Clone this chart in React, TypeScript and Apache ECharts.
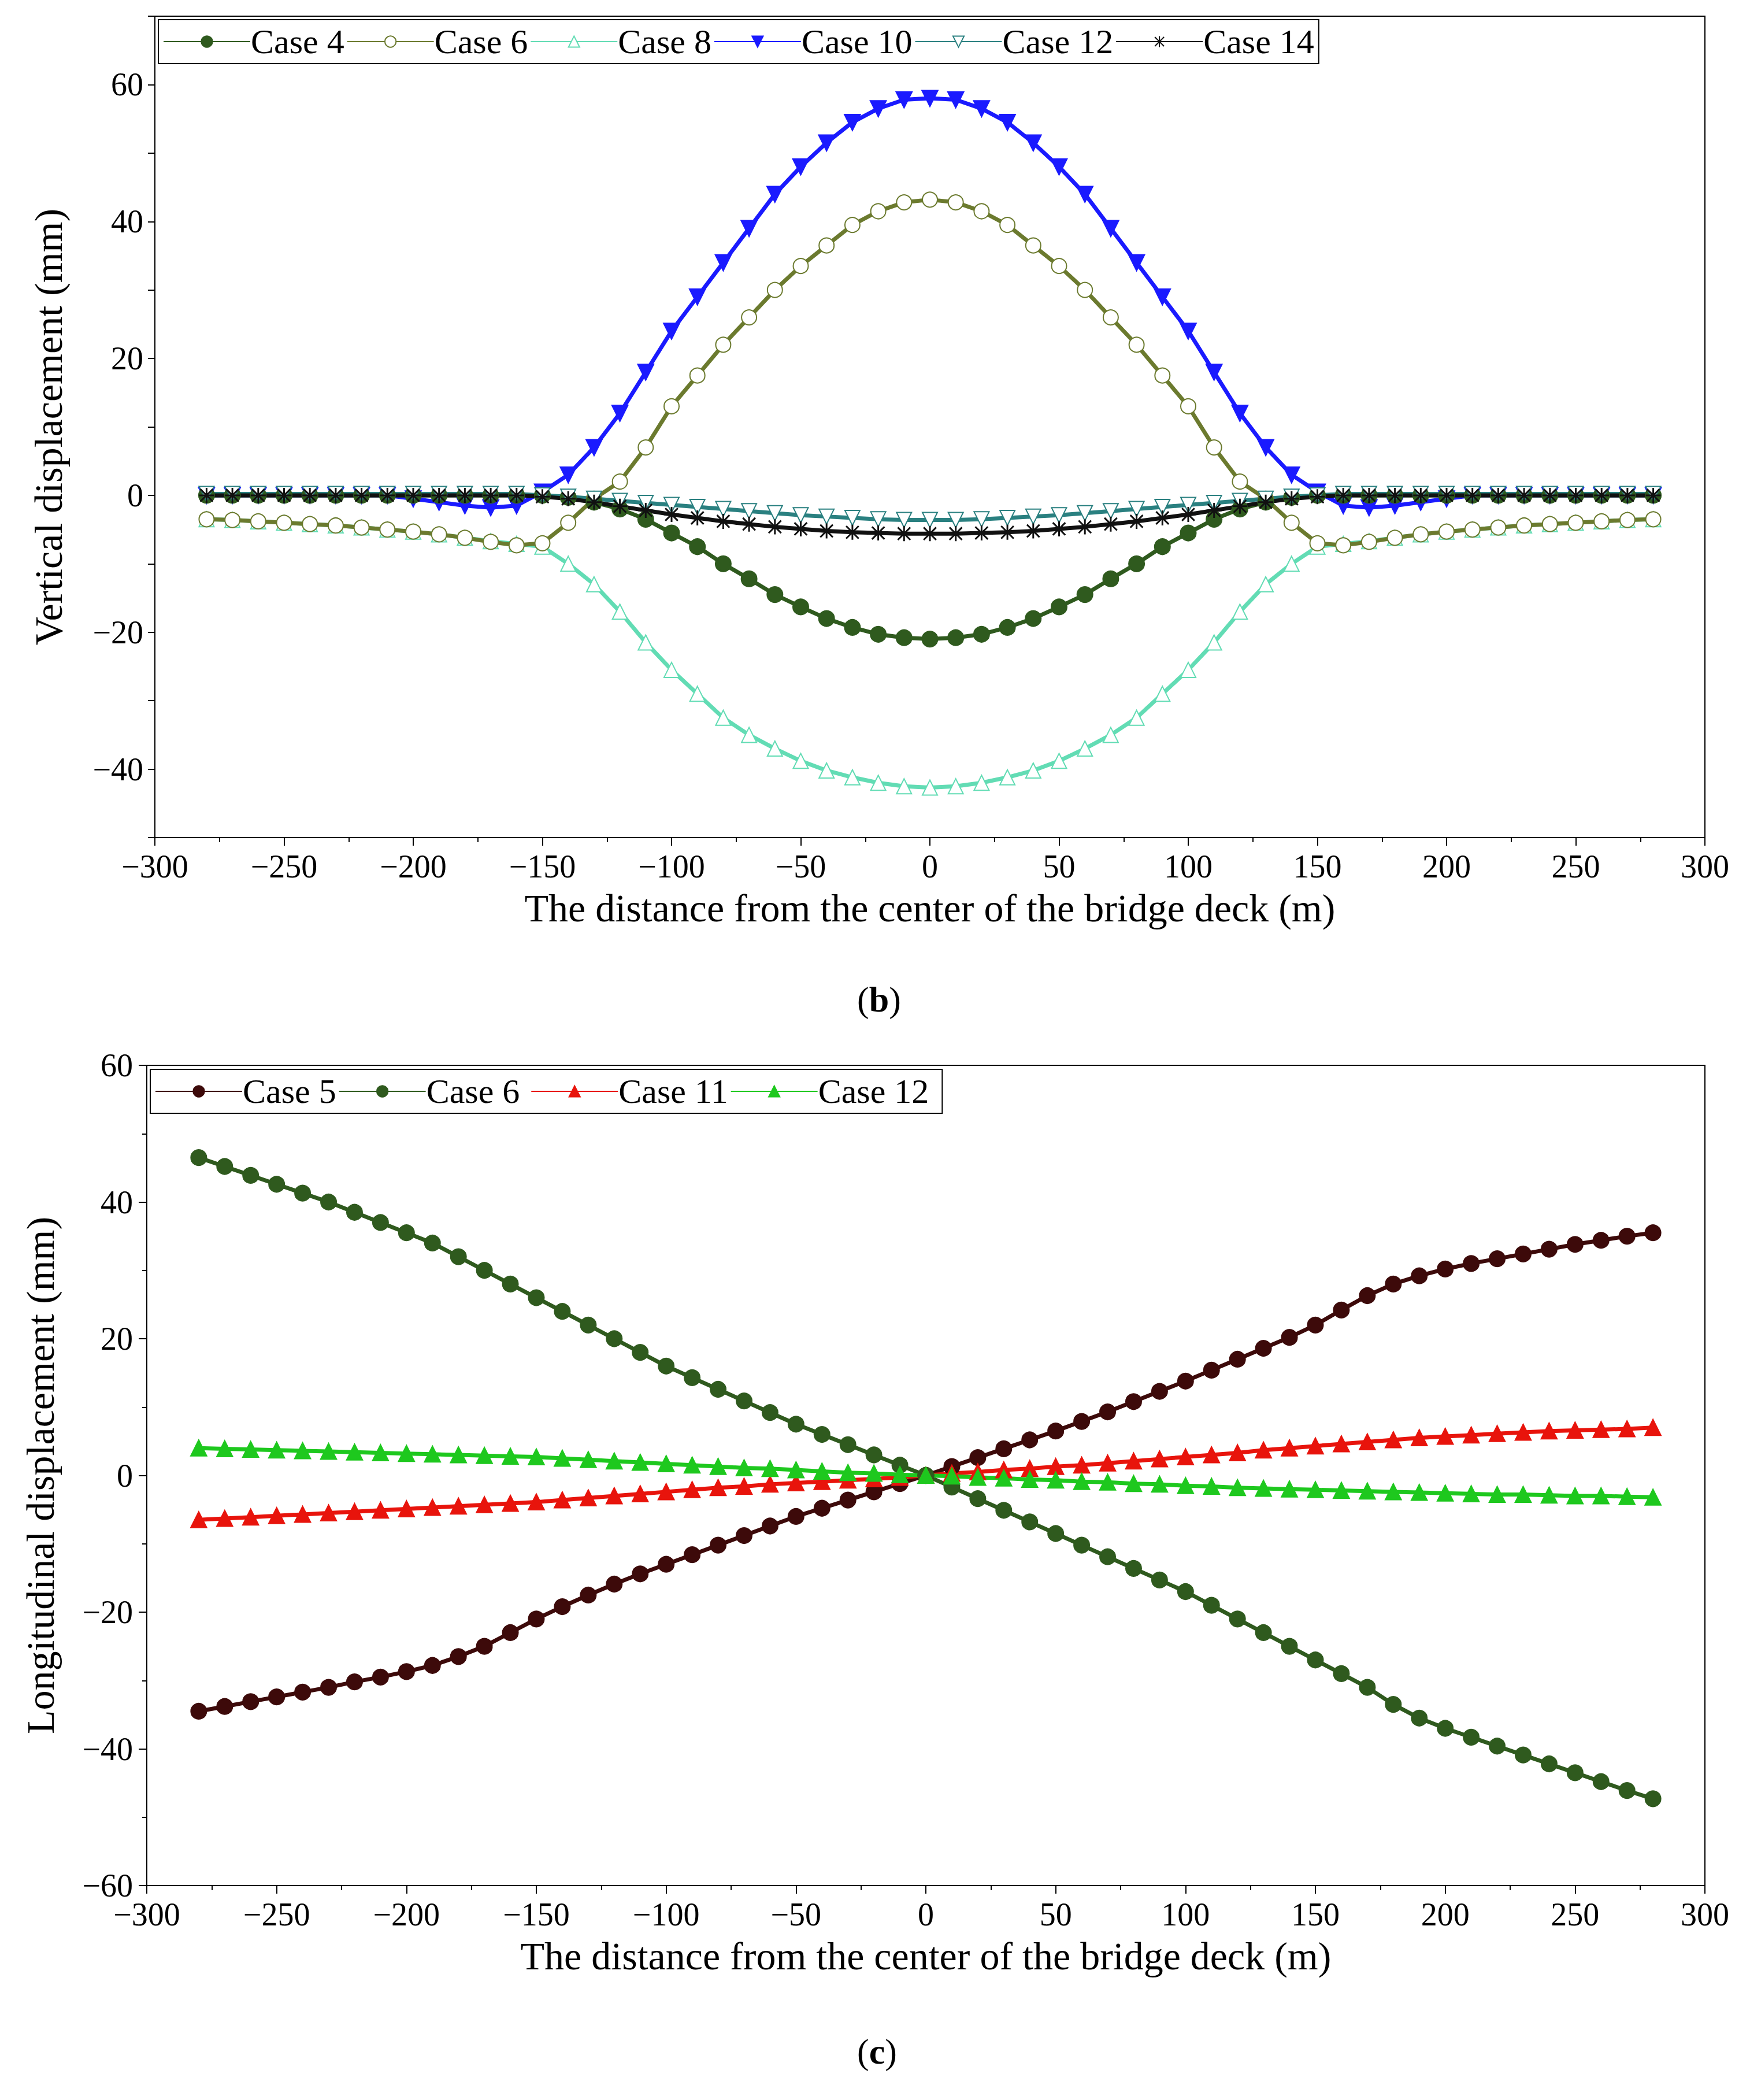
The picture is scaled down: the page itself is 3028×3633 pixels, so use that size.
import { useEffect, useRef } from "react";
import * as echarts from "echarts";

// x positions (m), every 10 m from -280 to 280
const xs = [
  -280, -270, -260, -250, -240, -230, -220, -210, -200, -190, -180, -170, -160, -150, -140, -130, -120, -110, -100, -90,
  -80, -70, -60, -50, -40, -30, -20, -10, 0, 10, 20, 30, 40, 50, 60, 70, 80, 90, 100, 110, 120, 130, 140, 150, 160, 170,
  180, 190, 200, 210, 220, 230, 240, 250, 260, 270, 280,
];

// (b) vertical displacement (mm)
const vCase4 = [
  0, 0, 0, 0, 0, 0, 0, 0, 0, 0, 0, 0, 0, 0, -0.3, -1, -2, -3.5, -5.5, -7.5, -10, -12.2, -14.5, -16.3, -18, -19.3, -20.3, -20.8,
  -21,
  -20.8, -20.3, -19.3, -18, -16.3, -14.5, -12.2, -10, -7.5, -5.5, -3.5, -2, -1, -0.3, 0, 0, 0, 0, 0, 0, 0, 0, 0, 0, 0, 0, 0, 0,
];
const vCase6 = [
  -3.5, -3.6, -3.8, -4, -4.2, -4.4, -4.7, -5, -5.3, -5.7, -6.2, -6.8, -7.3, -7, -4, -0.5, 2, 7, 13, 17.5, 22, 26, 30, 33.5, 36.5,
  39.5, 41.5, 42.8,
  43.2,
  42.8, 41.5, 39.5, 36.5, 33.5, 30, 26, 22, 17.5, 13, 7, 2, -0.5, -4, -7, -7.3, -6.8, -6.2, -5.7, -5.3, -5, -4.7, -4.4, -4.2, -4,
  -3.8, -3.6, -3.5,
];
const vCase8 = [
  -3.5, -3.6, -3.8, -4, -4.2, -4.4, -4.7, -5, -5.3, -5.7, -6.2, -6.7, -7.1, -7.5, -10, -13, -17, -21.5, -25.5, -29, -32.5, -35,
  -37, -38.8, -40.2, -41.2, -42, -42.5,
  -42.7,
  -42.5, -42, -41.2, -40.2, -38.8, -37, -35, -32.5, -29, -25.5, -21.5, -17, -13, -10, -7.5, -7.1, -6.7, -6.2, -5.7, -5.3, -5,
  -4.7, -4.4, -4.2, -4, -3.8, -3.6, -3.5,
];
const vCase10 = [
  0, 0, 0, 0, 0, 0, 0, 0, -0.5, -1, -1.5, -1.8, -1.5, 0.5, 3, 7, 12, 18, 24, 29, 34, 39, 44, 48, 51.5, 54.5, 56.5, 57.8,
  58,
  57.8, 56.5, 54.5, 51.5, 48, 44, 39, 34, 29, 24, 18, 12, 7, 3, 0.5, -1.5, -1.8, -1.5, -1, -0.5, 0, 0, 0, 0, 0, 0, 0, 0,
];
const vCase12 = [
  0.2, 0.2, 0.2, 0.2, 0.2, 0.2, 0.2, 0.2, 0.2, 0.2, 0.2, 0.2, 0.2, 0, -0.2, -0.5, -0.8, -1.1, -1.4, -1.7, -2, -2.3, -2.6, -2.9,
  -3.1, -3.3, -3.5, -3.6,
  -3.6,
  -3.6, -3.5, -3.3, -3.1, -2.9, -2.6, -2.3, -2, -1.7, -1.4, -1.1, -0.8, -0.5, -0.2, 0, 0.2, 0.2, 0.2, 0.2, 0.2, 0.2, 0.2, 0.2,
  0.2, 0.2, 0.2, 0.2, 0.2,
];
const vCase14 = [
  0, 0, 0, 0, 0, 0, 0, 0, 0, 0, 0, 0, 0, -0.2, -0.5, -1, -1.6, -2.2, -2.8, -3.3, -3.8, -4.2, -4.6, -4.9, -5.2, -5.4, -5.5, -5.6,
  -5.6,
  -5.6, -5.5, -5.4, -5.2, -4.9, -4.6, -4.2, -3.8, -3.3, -2.8, -2.2, -1.6, -1, -0.5, -0.2, 0, 0, 0, 0, 0, 0, 0, 0, 0, 0, 0, 0, 0,
];

// (c) longitudinal displacement (mm)
const lCase5 = [
  -34.5, -33.8, -33.1, -32.4, -31.7, -31, -30.2, -29.5, -28.7, -27.8, -26.5, -25, -23, -21, -19.2, -17.5, -15.9, -14.4, -13,
  -11.6, -10.2, -8.8, -7.4, -6, -4.8, -3.6, -2.4, -1.2, 0, 1.3, 2.6, 3.9, 5.2, 6.5, 7.9, 9.3, 10.8, 12.3, 13.8, 15.4, 17, 18.6,
  20.2, 22, 24.2, 26.3, 28, 29.2, 30.2, 31, 31.7, 32.4, 33.1, 33.8, 34.4, 35, 35.5,
];
const lCase6 = [
  46.5, 45.2, 43.9, 42.6, 41.3, 40, 38.5, 37, 35.5, 34, 32, 30, 28, 26, 24, 22, 20, 18, 16, 14.3, 12.6, 10.9, 9.2, 7.5, 6, 4.5,
  3, 1.5, 0, -1.7, -3.4, -5.1, -6.8, -8.5, -10.2, -11.9, -13.6, -15.3, -17, -19, -21, -23, -25, -27, -29, -31, -33.5, -35.5,
  -37, -38.3, -39.6, -40.9, -42.2, -43.5, -44.8, -46.1, -47.3,
];
const lCase11 = [
  -6.5, -6.3, -6.1, -5.9, -5.7, -5.5, -5.3, -5.1, -4.9, -4.7, -4.5, -4.3, -4.1, -3.9, -3.6, -3.3, -3.0, -2.7, -2.4, -2.1, -1.8,
  -1.6, -1.3, -1.1, -0.9, -0.7, -0.5, -0.3, 0, 0.3, 0.5, 0.8, 1.0, 1.3, 1.5, 1.8, 2.1, 2.4, 2.7, 3.0, 3.3, 3.7, 4.0, 4.3, 4.6,
  4.9, 5.2, 5.5, 5.7, 5.9, 6.1, 6.3, 6.5, 6.6, 6.7, 6.8, 7.0,
];
const lCase12 = [
  4.0, 3.9, 3.8, 3.7, 3.6, 3.5, 3.4, 3.3, 3.2, 3.1, 3.0, 2.9, 2.8, 2.7, 2.5, 2.3, 2.1, 1.9, 1.7, 1.5, 1.3, 1.1, 1.0, 0.8, 0.6,
  0.4, 0.3, 0.1, 0, -0.1, -0.3, -0.4, -0.6, -0.7, -0.9, -1.0, -1.2, -1.3, -1.5, -1.6, -1.8, -1.9, -2.0, -2.1, -2.2, -2.3, -2.4,
  -2.5, -2.6, -2.7, -2.8, -2.8, -2.9, -3.0, -3.0, -3.1, -3.2,
];

const FONT = "Liberation Serif";
const star = "path://M0,0L10,10M10,0L0,10M5,-1L5,11M-1,5L11,5";
const minus = (v: number) => String(v).replace("-", "\u2212");

const pairs = (ys: number[]) => xs.map((x, i) => [x, ys[i]]);

function line(name: string, ys: number[], idx: number, color: string, symbol: string, opts: any = {}) {
  return {
    name,
    type: "line",
    xAxisIndex: idx,
    yAxisIndex: idx,
    data: pairs(ys),
    symbol,
    symbolSize: 26,
    showAllSymbol: true,
    lineStyle: { color, width: 7 },
    itemStyle: { color, borderColor: color, borderWidth: 3 },
    ...opts,
  };
}

function xAxis(idx: number) {
  return {
    type: "value",
    gridIndex: idx,
    min: -300,
    max: 300,
    interval: 50,
    name: "The distance from the center of the bridge deck (m)",
    nameLocation: "middle",
    nameGap: 88,
    nameTextStyle: { fontFamily: FONT, fontSize: 68, color: "#000" },
    axisLine: { onZero: false, lineStyle: { color: "#000", width: 2 } },
    axisTick: { length: 14, lineStyle: { width: 2 } },
    minorTick: { show: true, splitNumber: 2, length: 8, lineStyle: { color: "#000", width: 2 } },
    axisLabel: { fontFamily: FONT, fontSize: 56, color: "#000", margin: 22, formatter: minus },
    splitLine: { show: false },
  };
}

export default function App() {
  const ref = useRef<HTMLDivElement | null>(null);

  useEffect(() => {
    if (!ref.current) return;
    const chart = echarts.init(ref.current, undefined, { renderer: "svg" });
    const legendBase = {
      orient: "horizontal",
      itemWidth: 150,
      itemHeight: 24,
      itemGap: 4,
      borderColor: "#000",
      borderWidth: 2,
      padding: [8, 8, 8, 8],
      textStyle: { fontFamily: FONT, fontSize: 60, color: "#000", padding: [0, 0, 0, -4] },
    };
    const hollow = (c: string) => ({ itemStyle: { color: c, borderColor: c, borderWidth: 3 } });
    chart.setOption({
      animation: false,
      backgroundColor: "#fff",
      grid: [
        { left: 260, right: 70, top: 20, height: 1421, show: true, borderColor: "#000", borderWidth: 2 },
        { left: 246, right: 70, top: 1835, height: 1419, show: true, borderColor: "#000", borderWidth: 2 },
      ],
      legend: [
        { ...legendBase, left: 266, top: 26, data: ["Case 4", "Case 6", "Case 8", "Case 10", "Case 12", "Case 14"] },
        { ...legendBase, left: 252, top: 1842, data: ["Case 5", "Case 6 ", "Case 11", "Case 12 "] },
      ],
      xAxis: [xAxis(0), xAxis(1)],
      yAxis: [
        {
          type: "value",
          gridIndex: 0,
          min: -50,
          max: 70,
          interval: 10,
          name: "Vertical displacement (mm)",
          nameLocation: "middle",
          nameGap: 150,
          nameTextStyle: { fontFamily: FONT, fontSize: 68, color: "#000" },
          axisLine: { show: true, onZero: false, lineStyle: { color: "#000", width: 2 } },
          axisTick: { length: 12, lineStyle: { width: 2 } },
          axisLabel: {
            fontFamily: FONT,
            fontSize: 56,
            color: "#000",
            margin: 20,
            formatter: (v: number) => (v % 20 === 0 ? minus(v) : ""),
          },
          splitLine: { show: false },
        },
        {
          type: "value",
          gridIndex: 1,
          min: -60,
          max: 60,
          interval: 20,
          name: "Longitudinal displacement (mm)",
          nameLocation: "middle",
          nameGap: 150,
          nameTextStyle: { fontFamily: FONT, fontSize: 68, color: "#000" },
          axisLine: { show: true, onZero: false, lineStyle: { color: "#000", width: 2 } },
          axisTick: { length: 14, lineStyle: { width: 2 } },
          minorTick: { show: true, splitNumber: 2, length: 8, lineStyle: { color: "#000", width: 2 } },
          axisLabel: { fontFamily: FONT, fontSize: 56, color: "#000", margin: 24, formatter: minus },
          splitLine: { show: false },
        },
      ],
      series: [
        line("Case 8", vCase8, 0, "#62dcb4", "emptyTriangle", hollow("#62dcb4")),
        line("Case 6", vCase6, 0, "#6b7a2e", "emptyCircle", hollow("#6b7a2e")),
        line("Case 10", vCase10, 0, "#1a1aff", "triangle", { symbolRotate: 180 }),
        line("Case 4", vCase4, 0, "#2f5a1e", "circle"),
        line("Case 12", vCase12, 0, "#2a8080", "emptyTriangle", { symbolRotate: 180, ...hollow("#2a8080") }),
        line("Case 14", vCase14, 0, "#111", star),
        line("Case 5", lCase5, 1, "#3d0a0a", "circle"),
        line("Case 6 ", lCase6, 1, "#2f5a1e", "circle"),
        line("Case 11", lCase11, 1, "#e8140c", "triangle"),
        line("Case 12 ", lCase12, 1, "#1ec81e", "triangle"),
      ],
      graphic: [
        {
          type: "text",
          left: 1475,
          top: 1690,
          style: {
            text: "({b|b})",
            font: `62px ${FONT}`,
            fill: "#000",
            rich: { b: { fontFamily: FONT, fontSize: 62, fontWeight: "bold", fill: "#000" } },
          },
        },
        {
          type: "text",
          left: 1475,
          top: 3510,
          style: {
            text: "({b|c})",
            font: `62px ${FONT}`,
            fill: "#000",
            rich: { b: { fontFamily: FONT, fontSize: 62, fontWeight: "bold", fill: "#000" } },
          },
        },
      ],
    });
    return () => chart.dispose();
  }, []);

  return <div ref={ref} style={{ width: 3012, height: 3617 }} />;
}
